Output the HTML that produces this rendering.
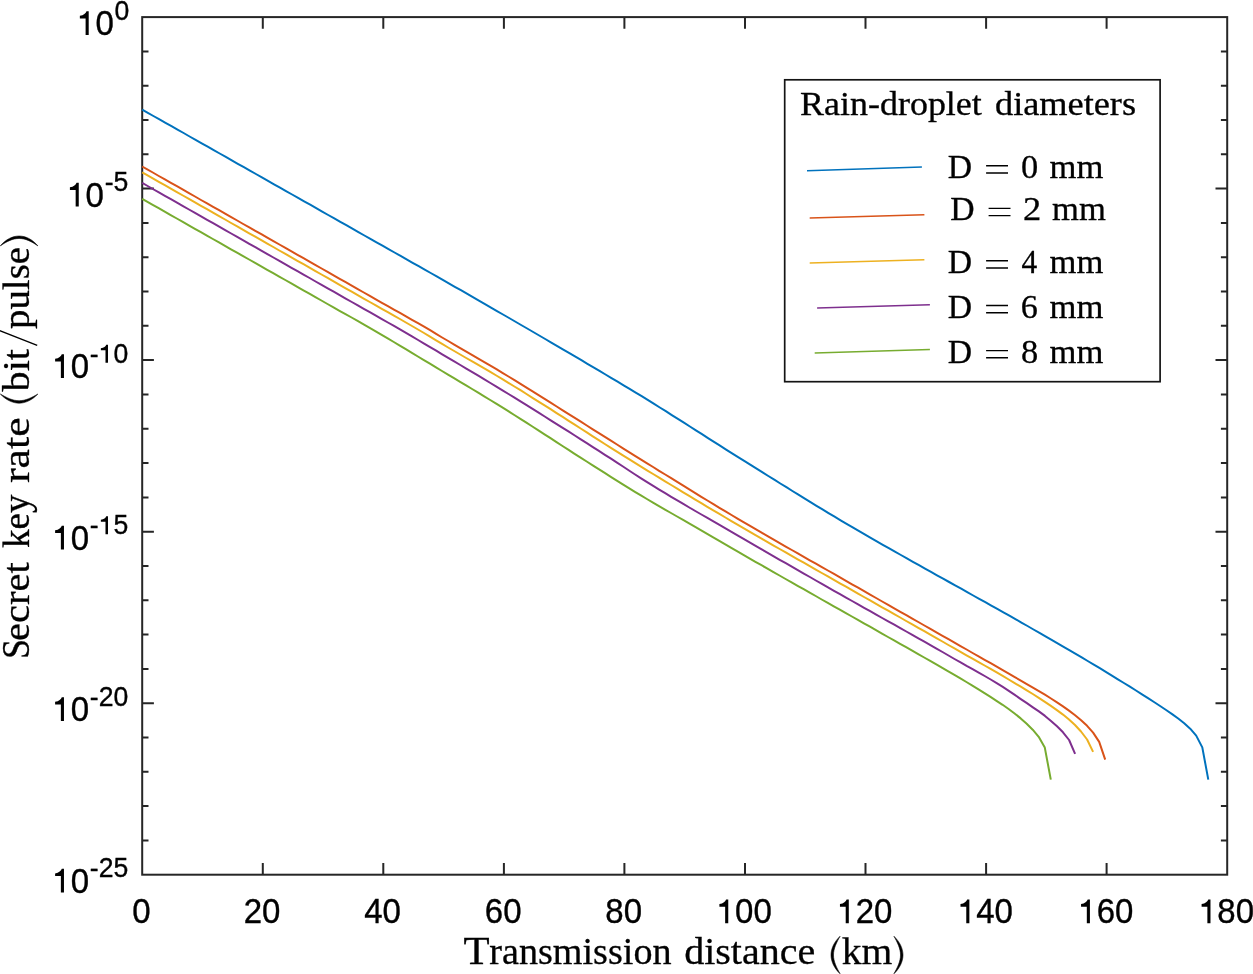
<!DOCTYPE html>
<html><head><meta charset="utf-8"><title>Secret key rate</title>
<style>
html,body{margin:0;padding:0;background:#fff;}
body{width:1253px;height:974px;overflow:hidden;position:relative;}
svg{position:absolute;left:0;top:0;display:block;}
text{font-kerning:none;font-variant-ligatures:none;}
.sans{font-family:"Liberation Sans",sans-serif;fill:#000;stroke:#000;stroke-width:0.35px;}
.serif{font-family:"Liberation Serif",serif;fill:#000;stroke:#000;stroke-width:0.3px;}
</style></head><body>
<svg width="1253" height="974" viewBox="0 0 1253 974">
<rect x="0" y="0" width="1253" height="974" fill="#fff"/>

<g stroke="#262626" stroke-width="2.0" fill="none" stroke-linecap="butt">
<rect x="142.2" y="17.1" width="1085.0" height="857.6"/>
<path d="M262.8,874.7 V863.0 M262.8,17.1 V28.8"/>
<path d="M383.3,874.7 V863.0 M383.3,17.1 V28.8"/>
<path d="M503.9,874.7 V863.0 M503.9,17.1 V28.8"/>
<path d="M624.4,874.7 V863.0 M624.4,17.1 V28.8"/>
<path d="M745.0,874.7 V863.0 M745.0,17.1 V28.8"/>
<path d="M865.5,874.7 V863.0 M865.5,17.1 V28.8"/>
<path d="M986.1,874.7 V863.0 M986.1,17.1 V28.8"/>
<path d="M1106.6,874.7 V863.0 M1106.6,17.1 V28.8"/>
<path d="M142.2,51.4 H148.5 M1227.2,51.4 H1220.9"/>
<path d="M142.2,85.7 H148.5 M1227.2,85.7 H1220.9"/>
<path d="M142.2,120.0 H148.5 M1227.2,120.0 H1220.9"/>
<path d="M142.2,154.3 H148.5 M1227.2,154.3 H1220.9"/>
<path d="M142.2,188.6 H153.9 M1227.2,188.6 H1215.5"/>
<path d="M142.2,222.9 H148.5 M1227.2,222.9 H1220.9"/>
<path d="M142.2,257.2 H148.5 M1227.2,257.2 H1220.9"/>
<path d="M142.2,291.5 H148.5 M1227.2,291.5 H1220.9"/>
<path d="M142.2,325.8 H148.5 M1227.2,325.8 H1220.9"/>
<path d="M142.2,360.1 H153.9 M1227.2,360.1 H1215.5"/>
<path d="M142.2,394.4 H148.5 M1227.2,394.4 H1220.9"/>
<path d="M142.2,428.7 H148.5 M1227.2,428.7 H1220.9"/>
<path d="M142.2,463.1 H148.5 M1227.2,463.1 H1220.9"/>
<path d="M142.2,497.4 H148.5 M1227.2,497.4 H1220.9"/>
<path d="M142.2,531.7 H153.9 M1227.2,531.7 H1215.5"/>
<path d="M142.2,566.0 H148.5 M1227.2,566.0 H1220.9"/>
<path d="M142.2,600.3 H148.5 M1227.2,600.3 H1220.9"/>
<path d="M142.2,634.6 H148.5 M1227.2,634.6 H1220.9"/>
<path d="M142.2,668.9 H148.5 M1227.2,668.9 H1220.9"/>
<path d="M142.2,703.2 H153.9 M1227.2,703.2 H1215.5"/>
<path d="M142.2,737.5 H148.5 M1227.2,737.5 H1220.9"/>
<path d="M142.2,771.8 H148.5 M1227.2,771.8 H1220.9"/>
<path d="M142.2,806.1 H148.5 M1227.2,806.1 H1220.9"/>
<path d="M142.2,840.4 H148.5 M1227.2,840.4 H1220.9"/>
</g>
<g fill="none" stroke-width="2" stroke-linejoin="round" stroke-linecap="butt">
<path d="M142.2,109.6 L147.4,112.6 L153.4,116.0 L159.5,119.4 L165.5,122.8 L171.5,126.2 L177.5,129.6 L183.6,133.0 L189.6,136.5 L195.6,139.9 L201.7,143.3 L207.7,146.7 L213.7,150.1 L219.7,153.5 L225.8,156.9 L231.8,160.4 L237.8,163.8 L243.9,167.2 L249.9,170.6 L255.9,174.0 L261.9,177.4 L268.0,180.8 L274.0,184.3 L280.0,187.7 L286.0,191.1 L292.1,194.5 L298.1,197.9 L304.1,201.3 L310.2,204.7 L316.2,208.2 L322.2,211.6 L328.2,215.0 L334.3,218.4 L340.3,221.8 L346.3,225.2 L352.4,228.7 L358.4,232.1 L364.4,235.5 L370.4,238.9 L376.5,242.3 L382.5,245.7 L388.5,249.1 L394.5,252.5 L400.6,255.9 L406.6,259.3 L412.6,262.8 L418.7,266.2 L424.7,269.6 L430.7,273.0 L436.7,276.4 L442.8,279.9 L448.8,283.3 L454.8,286.8 L460.9,290.2 L466.9,293.7 L472.9,297.2 L478.9,300.6 L485.0,304.1 L491.0,307.6 L497.0,311.1 L503.0,314.5 L509.1,318.0 L515.1,321.5 L521.1,325.0 L527.2,328.5 L533.2,332.0 L539.2,335.5 L545.2,339.0 L551.3,342.6 L557.3,346.1 L563.3,349.6 L569.4,353.2 L575.4,356.7 L581.4,360.2 L587.4,363.8 L593.5,367.3 L599.5,370.9 L605.5,374.5 L611.5,378.1 L617.6,381.7 L623.6,385.3 L629.6,388.9 L635.7,392.6 L641.7,396.2 L647.7,399.9 L653.7,403.7 L659.8,407.5 L665.8,411.2 L671.8,415.1 L677.9,418.9 L683.9,422.7 L689.9,426.5 L695.9,430.4 L702.0,434.2 L708.0,438.1 L714.0,441.9 L720.0,445.7 L726.1,449.6 L732.1,453.4 L738.1,457.1 L744.2,460.9 L750.2,464.7 L756.2,468.4 L762.2,472.2 L768.3,476.0 L774.3,479.7 L780.3,483.5 L786.4,487.2 L792.4,491.0 L798.4,494.7 L804.4,498.4 L810.5,502.1 L816.5,505.8 L822.5,509.4 L828.5,513.1 L834.6,516.7 L840.6,520.3 L846.6,523.8 L852.7,527.4 L858.7,530.9 L864.7,534.4 L870.7,537.9 L876.8,541.3 L882.8,544.8 L888.8,548.2 L894.9,551.6 L900.9,555.0 L906.9,558.4 L912.9,561.8 L919.0,565.2 L925.0,568.6 L931.0,571.9 L937.0,575.3 L943.1,578.7 L949.1,582.0 L955.1,585.4 L961.2,588.7 L967.2,592.1 L973.2,595.5 L979.2,598.8 L985.3,602.2 L991.3,605.6 L997.3,608.9 L1003.4,612.3 L1009.4,615.7 L1015.4,619.1 L1021.4,622.6 L1027.5,626.0 L1033.5,629.5 L1039.5,632.9 L1045.5,636.4 L1051.6,639.9 L1057.6,643.4 L1063.6,646.9 L1069.7,650.4 L1075.7,653.9 L1081.7,657.4 L1087.7,661.0 L1093.8,664.6 L1099.8,668.2 L1105.8,671.9 L1111.9,675.6 L1117.9,679.3 L1123.9,683.0 L1129.9,686.7 L1136.0,690.5 L1142.0,694.3 L1148.0,698.2 L1154.0,702.0 L1160.1,706.0 L1166.1,710.0 L1172.1,714.1 L1178.2,718.5 L1184.2,723.3 L1190.2,728.7 L1196.2,735.6 L1202.3,747.4 L1208.3,779.6" stroke="#0072BD"/>
<path d="M142.2,166.5 L146.8,169.1 L152.8,172.5 L158.8,176.0 L164.9,179.4 L170.9,182.8 L176.9,186.2 L183.0,189.7 L189.0,193.1 L195.0,196.5 L201.0,200.0 L207.1,203.4 L213.1,206.8 L219.1,210.2 L225.1,213.7 L231.2,217.1 L237.2,220.5 L243.2,224.0 L249.3,227.4 L255.3,230.8 L261.3,234.2 L267.3,237.7 L273.4,241.1 L279.4,244.5 L285.4,247.9 L291.5,251.4 L297.5,254.8 L303.5,258.2 L309.5,261.7 L315.6,265.1 L321.6,268.5 L327.6,271.9 L333.6,275.4 L339.7,278.8 L345.7,282.2 L351.7,285.7 L357.8,289.1 L363.8,292.5 L369.8,295.9 L375.8,299.4 L381.9,302.8 L387.9,306.2 L393.9,309.6 L400.0,312.9 L406.0,316.3 L412.0,319.8 L418.0,323.2 L424.1,326.7 L430.1,330.2 L436.1,333.9 L442.1,337.5 L448.2,341.0 L454.2,344.6 L460.2,348.1 L466.3,351.6 L472.3,355.1 L478.3,358.6 L484.3,362.1 L490.4,365.7 L496.4,369.2 L502.4,372.9 L508.5,376.5 L514.5,380.2 L520.5,383.9 L526.5,387.6 L532.6,391.4 L538.6,395.1 L544.6,398.9 L550.6,402.7 L556.7,406.5 L562.7,410.3 L568.7,414.1 L574.8,417.9 L580.8,421.7 L586.8,425.5 L592.8,429.3 L598.9,433.1 L604.9,436.9 L610.9,440.7 L617.0,444.5 L623.0,448.3 L629.0,452.1 L635.0,455.8 L641.1,459.6 L647.1,463.3 L653.1,467.0 L659.1,470.8 L665.2,474.5 L671.2,478.2 L677.2,481.9 L683.3,485.7 L689.3,489.4 L695.3,493.1 L701.3,496.8 L707.4,500.5 L713.4,504.1 L719.4,507.8 L725.5,511.4 L731.5,515.0 L737.5,518.6 L743.5,522.2 L749.6,525.7 L755.6,529.2 L761.6,532.7 L767.6,536.2 L773.7,539.7 L779.7,543.1 L785.7,546.6 L791.8,550.0 L797.8,553.4 L803.8,556.8 L809.8,560.3 L815.9,563.7 L821.9,567.1 L827.9,570.5 L834.0,573.9 L840.0,577.4 L846.0,580.8 L852.0,584.3 L858.1,587.7 L864.1,591.2 L870.1,594.6 L876.1,598.0 L882.2,601.5 L888.2,604.9 L894.2,608.3 L900.3,611.8 L906.3,615.2 L912.3,618.6 L918.3,622.0 L924.4,625.5 L930.4,628.9 L936.4,632.4 L942.5,635.8 L948.5,639.2 L954.5,642.7 L960.5,646.1 L966.6,649.5 L972.6,653.0 L978.6,656.4 L984.6,659.8 L990.7,663.2 L996.7,666.7 L1002.7,670.1 L1008.8,673.6 L1014.8,677.1 L1020.8,680.6 L1026.8,684.1 L1032.9,687.6 L1038.9,691.1 L1044.9,694.7 L1051.0,698.5 L1057.0,702.4 L1063.0,706.4 L1069.0,710.6 L1075.1,715.2 L1081.1,720.2 L1087.1,725.8 L1093.1,732.6 L1099.2,741.9 L1105.2,759.6" stroke="#D95319"/>
<path d="M142.2,172.3 L146.7,174.9 L152.8,178.3 L158.8,181.8 L164.8,185.2 L170.8,188.6 L176.9,192.1 L182.9,195.5 L188.9,198.9 L195.0,202.4 L201.0,205.8 L207.0,209.2 L213.0,212.7 L219.1,216.1 L225.1,219.5 L231.1,223.0 L237.2,226.4 L243.2,229.9 L249.2,233.3 L255.2,236.7 L261.3,240.2 L267.3,243.6 L273.3,247.0 L279.3,250.5 L285.4,253.9 L291.4,257.3 L297.4,260.8 L303.5,264.2 L309.5,267.6 L315.5,271.1 L321.5,274.5 L327.6,277.9 L333.6,281.4 L339.6,284.8 L345.7,288.3 L351.7,291.7 L357.7,295.1 L363.7,298.6 L369.8,302.0 L375.8,305.4 L381.8,308.8 L387.8,312.2 L393.9,315.6 L399.9,319.0 L405.9,322.5 L412.0,326.0 L418.0,329.5 L424.0,333.0 L430.0,336.7 L436.1,340.3 L442.1,343.9 L448.1,347.5 L454.2,351.0 L460.2,354.5 L466.2,358.0 L472.2,361.4 L478.3,364.9 L484.3,368.4 L490.3,371.9 L496.3,375.5 L502.4,379.1 L508.4,382.8 L514.4,386.5 L520.5,390.2 L526.5,394.0 L532.5,397.8 L538.5,401.6 L544.6,405.4 L550.6,409.2 L556.6,413.1 L562.7,416.9 L568.7,420.8 L574.7,424.7 L580.7,428.5 L586.8,432.4 L592.8,436.3 L598.8,440.1 L604.8,444.0 L610.9,447.8 L616.9,451.6 L622.9,455.4 L629.0,459.2 L635.0,462.9 L641.0,466.6 L647.0,470.3 L653.1,474.0 L659.1,477.7 L665.1,481.4 L671.2,485.0 L677.2,488.7 L683.2,492.3 L689.2,495.9 L695.3,499.6 L701.3,503.2 L707.3,506.8 L713.3,510.4 L719.4,513.9 L725.4,517.5 L731.4,521.1 L737.5,524.6 L743.5,528.1 L749.5,531.7 L755.5,535.2 L761.6,538.6 L767.6,542.1 L773.6,545.6 L779.7,549.0 L785.7,552.4 L791.7,555.9 L797.7,559.3 L803.8,562.7 L809.8,566.1 L815.8,569.6 L821.8,573.0 L827.9,576.4 L833.9,579.8 L839.9,583.3 L846.0,586.7 L852.0,590.1 L858.0,593.6 L864.0,597.0 L870.1,600.4 L876.1,603.8 L882.1,607.3 L888.2,610.7 L894.2,614.1 L900.2,617.5 L906.2,621.0 L912.3,624.4 L918.3,627.8 L924.3,631.2 L930.3,634.7 L936.4,638.1 L942.4,641.5 L948.4,645.0 L954.5,648.4 L960.5,651.8 L966.5,655.3 L972.5,658.7 L978.6,662.1 L984.6,665.5 L990.6,668.9 L996.7,672.4 L1002.7,675.9 L1008.7,679.5 L1014.7,683.1 L1020.8,686.7 L1026.8,690.3 L1032.8,694.0 L1038.8,697.8 L1044.9,701.8 L1050.9,705.9 L1056.9,710.1 L1063.0,714.6 L1069.0,719.5 L1075.0,725.0 L1081.0,731.5 L1087.1,739.5 L1093.1,751.9" stroke="#EDB120"/>
<path d="M142.2,182.9 L146.8,185.5 L152.8,189.0 L158.9,192.4 L164.9,195.8 L170.9,199.2 L177.0,202.7 L183.0,206.1 L189.0,209.5 L195.0,212.9 L201.1,216.4 L207.1,219.8 L213.1,223.2 L219.2,226.6 L225.2,230.1 L231.2,233.5 L237.2,236.9 L243.3,240.3 L249.3,243.8 L255.3,247.2 L261.3,250.6 L267.4,254.1 L273.4,257.5 L279.4,260.9 L285.5,264.3 L291.5,267.8 L297.5,271.2 L303.5,274.6 L309.6,278.0 L315.6,281.5 L321.6,284.9 L327.7,288.3 L333.7,291.7 L339.7,295.2 L345.7,298.6 L351.8,302.0 L357.8,305.4 L363.8,308.8 L369.8,312.2 L375.9,315.6 L381.9,319.1 L387.9,322.5 L394.0,325.9 L400.0,329.4 L406.0,332.9 L412.0,336.4 L418.1,340.0 L424.1,343.6 L430.1,347.1 L436.2,350.7 L442.2,354.3 L448.2,357.9 L454.2,361.4 L460.3,365.0 L466.3,368.6 L472.3,372.1 L478.3,375.7 L484.4,379.3 L490.4,383.0 L496.4,386.6 L502.5,390.3 L508.5,394.0 L514.5,397.7 L520.5,401.4 L526.6,405.2 L532.6,408.9 L538.6,412.7 L544.7,416.5 L550.7,420.3 L556.7,424.1 L562.7,427.9 L568.8,431.7 L574.8,435.5 L580.8,439.4 L586.8,443.2 L592.9,447.1 L598.9,450.9 L604.9,454.8 L611.0,458.7 L617.0,462.6 L623.0,466.5 L629.0,470.5 L635.1,474.5 L641.1,478.4 L647.1,482.2 L653.2,485.9 L659.2,489.6 L665.2,493.2 L671.2,496.8 L677.3,500.4 L683.3,503.9 L689.3,507.5 L695.3,511.0 L701.4,514.5 L707.4,517.9 L713.4,521.4 L719.5,524.9 L725.5,528.4 L731.5,531.9 L737.5,535.4 L743.6,538.9 L749.6,542.4 L755.6,545.9 L761.7,549.4 L767.7,552.8 L773.7,556.3 L779.7,559.8 L785.8,563.2 L791.8,566.7 L797.8,570.1 L803.8,573.6 L809.9,577.0 L815.9,580.5 L821.9,583.9 L828.0,587.3 L834.0,590.8 L840.0,594.2 L846.0,597.6 L852.1,601.0 L858.1,604.4 L864.1,607.8 L870.2,611.2 L876.2,614.6 L882.2,618.0 L888.2,621.4 L894.3,624.7 L900.3,628.1 L906.3,631.5 L912.3,634.9 L918.4,638.3 L924.4,641.7 L930.4,645.1 L936.5,648.6 L942.5,652.0 L948.5,655.5 L954.5,659.0 L960.6,662.4 L966.6,665.9 L972.6,669.2 L978.7,672.6 L984.7,676.0 L990.7,679.5 L996.7,683.1 L1002.8,686.9 L1008.8,690.8 L1014.8,694.9 L1020.8,699.1 L1026.9,703.2 L1032.9,707.3 L1038.9,711.4 L1045.0,715.9 L1051.0,720.9 L1057.0,726.3 L1063.0,732.3 L1069.1,740.0 L1075.1,753.9" stroke="#7E2F8E"/>
<path d="M142.2,198.9 L146.6,201.4 L152.7,204.8 L158.7,208.2 L164.7,211.7 L170.7,215.1 L176.8,218.5 L182.8,221.9 L188.8,225.3 L194.9,228.8 L200.9,232.2 L206.9,235.6 L212.9,239.0 L219.0,242.4 L225.0,245.8 L231.0,249.3 L237.0,252.7 L243.1,256.1 L249.1,259.5 L255.1,262.9 L261.2,266.4 L267.2,269.8 L273.2,273.2 L279.2,276.6 L285.3,280.0 L291.3,283.4 L297.3,286.9 L303.4,290.3 L309.4,293.7 L315.4,297.1 L321.4,300.5 L327.5,304.0 L333.5,307.4 L339.5,310.8 L345.5,314.1 L351.6,317.5 L357.6,320.9 L363.6,324.4 L369.7,327.8 L375.7,331.3 L381.7,334.9 L387.7,338.4 L393.8,342.0 L399.8,345.6 L405.8,349.2 L411.9,352.8 L417.9,356.5 L423.9,360.1 L429.9,363.7 L436.0,367.4 L442.0,371.0 L448.0,374.6 L454.0,378.2 L460.1,381.8 L466.1,385.4 L472.1,389.0 L478.2,392.7 L484.2,396.3 L490.2,400.0 L496.2,403.7 L502.3,407.4 L508.3,411.2 L514.3,415.0 L520.4,418.8 L526.4,422.7 L532.4,426.5 L538.4,430.4 L544.5,434.3 L550.5,438.2 L556.5,442.1 L562.5,446.0 L568.6,449.9 L574.6,453.8 L580.6,457.6 L586.7,461.5 L592.7,465.3 L598.7,469.1 L604.7,472.9 L610.8,476.8 L616.8,480.6 L622.8,484.4 L628.9,488.1 L634.9,491.8 L640.9,495.4 L646.9,499.0 L653.0,502.6 L659.0,506.1 L665.0,509.6 L671.0,513.0 L677.1,516.5 L683.1,519.9 L689.1,523.3 L695.2,526.8 L701.2,530.3 L707.2,533.8 L713.2,537.3 L719.3,540.8 L725.3,544.4 L731.3,547.9 L737.4,551.4 L743.4,554.8 L749.4,558.3 L755.4,561.8 L761.5,565.2 L767.5,568.7 L773.5,572.1 L779.5,575.5 L785.6,579.0 L791.6,582.4 L797.6,585.8 L803.7,589.2 L809.7,592.6 L815.7,596.0 L821.7,599.5 L827.8,602.9 L833.8,606.3 L839.8,609.7 L845.9,613.1 L851.9,616.5 L857.9,619.9 L863.9,623.3 L870.0,626.7 L876.0,630.1 L882.0,633.6 L888.0,637.0 L894.1,640.4 L900.1,643.8 L906.1,647.2 L912.2,650.7 L918.2,654.1 L924.2,657.5 L930.2,660.9 L936.3,664.4 L942.3,667.8 L948.3,671.3 L954.4,674.8 L960.4,678.4 L966.4,682.0 L972.4,685.7 L978.5,689.4 L984.5,693.1 L990.5,696.9 L996.5,700.8 L1002.6,704.8 L1008.6,709.0 L1014.6,713.5 L1020.7,718.4 L1026.7,723.8 L1032.7,729.7 L1038.7,736.8 L1044.8,747.6 L1050.8,779.6" stroke="#77AC30"/>
</g>
<rect x="784.7" y="79.8" width="375.4" height="301.9" fill="#fff" stroke="#141414" stroke-width="1.7"/>
<line x1="807.0" y1="170.8" x2="921.9" y2="166.9" stroke="#0072BD" stroke-width="1.5"/>
<path d="M986.1,165.8 H1008.0 M986.1,173.0 H1008.0" stroke="#000" stroke-width="1.4" fill="none"/>
<line x1="809.7" y1="218.0" x2="924.4" y2="214.8" stroke="#D95319" stroke-width="1.5"/>
<path d="M988.6,208.4 H1010.5 M988.6,215.6 H1010.5" stroke="#000" stroke-width="1.4" fill="none"/>
<line x1="809.7" y1="262.9" x2="924.4" y2="259.8" stroke="#EDB120" stroke-width="1.5"/>
<path d="M986.1,260.8 H1008.0 M986.1,268.0 H1008.0" stroke="#000" stroke-width="1.4" fill="none"/>
<line x1="817.1" y1="308.1" x2="929.9" y2="304.7" stroke="#7E2F8E" stroke-width="1.5"/>
<path d="M986.1,305.5 H1008.0 M986.1,312.7 H1008.0" stroke="#000" stroke-width="1.4" fill="none"/>
<line x1="814.7" y1="353.1" x2="929.9" y2="349.5" stroke="#77AC30" stroke-width="1.5"/>
<path d="M986.1,350.6 H1008.0 M986.1,357.8 H1008.0" stroke="#000" stroke-width="1.4" fill="none"/>
<g style="opacity:0.999">
<text class="sans" transform="translate(0,923.30) scale(1,1.075)" x="132.33" y="0" font-size="33">0</text>
<text class="sans" transform="translate(0,923.30) scale(1,1.075)" x="243.71 262.06" y="0" font-size="33">20</text>
<text class="sans" transform="translate(0,923.30) scale(1,1.075)" x="364.26 382.61" y="0" font-size="33">40</text>
<text class="sans" transform="translate(0,923.30) scale(1,1.075)" x="484.82 503.17" y="0" font-size="33">60</text>
<text class="sans" transform="translate(0,923.30) scale(1,1.075)" x="605.37 623.72" y="0" font-size="33">80</text>
<path d="M0.2545,0 L0.3485,0 L0.3485,-0.721 L0.282,-0.721 C0.262,-0.655 0.197,-0.603 0.080,-0.582 L0.080,-0.503 L0.2545,-0.503 Z" transform="translate(716.76,923.30) scale(33,33.000)" fill="#000"/>
<text class="sans" transform="translate(0,923.30) scale(1,1.075)" x="735.10 753.45" y="0" font-size="33">00</text>
<path d="M0.2545,0 L0.3485,0 L0.3485,-0.721 L0.282,-0.721 C0.262,-0.655 0.197,-0.603 0.080,-0.582 L0.080,-0.503 L0.2545,-0.503 Z" transform="translate(837.31,923.30) scale(33,33.000)" fill="#000"/>
<text class="sans" transform="translate(0,923.30) scale(1,1.075)" x="855.66 874.01" y="0" font-size="33">20</text>
<path d="M0.2545,0 L0.3485,0 L0.3485,-0.721 L0.282,-0.721 C0.262,-0.655 0.197,-0.603 0.080,-0.582 L0.080,-0.503 L0.2545,-0.503 Z" transform="translate(957.87,923.30) scale(33,33.000)" fill="#000"/>
<text class="sans" transform="translate(0,923.30) scale(1,1.075)" x="976.21 994.56" y="0" font-size="33">40</text>
<path d="M0.2545,0 L0.3485,0 L0.3485,-0.721 L0.282,-0.721 C0.262,-0.655 0.197,-0.603 0.080,-0.582 L0.080,-0.503 L0.2545,-0.503 Z" transform="translate(1078.42,923.30) scale(33,33.000)" fill="#000"/>
<text class="sans" transform="translate(0,923.30) scale(1,1.075)" x="1096.77 1115.12" y="0" font-size="33">60</text>
<path d="M0.2545,0 L0.3485,0 L0.3485,-0.721 L0.282,-0.721 C0.262,-0.655 0.197,-0.603 0.080,-0.582 L0.080,-0.503 L0.2545,-0.503 Z" transform="translate(1198.98,923.30) scale(33,33.000)" fill="#000"/>
<text class="sans" transform="translate(0,923.30) scale(1,1.075)" x="1217.33 1235.67" y="0" font-size="33">80</text>
<path d="M0.2545,0 L0.3485,0 L0.3485,-0.721 L0.282,-0.721 C0.262,-0.655 0.197,-0.603 0.080,-0.582 L0.080,-0.503 L0.2545,-0.503 Z" transform="translate(77.21,35.00) scale(33,33.000)" fill="#000"/>
<text class="sans" transform="translate(0,35.00) scale(1,1.075)" x="95.56" y="0" font-size="33">0</text>
<text class="sans" transform="translate(0,19.80) scale(1,1.02)" x="114.61" y="0" font-size="26.6">0</text>
<path d="M0.2545,0 L0.3485,0 L0.3485,-0.721 L0.282,-0.721 C0.262,-0.655 0.197,-0.603 0.080,-0.582 L0.080,-0.503 L0.2545,-0.503 Z" transform="translate(67.26,206.52) scale(33,33.000)" fill="#000"/>
<text class="sans" transform="translate(0,206.52) scale(1,1.075)" x="85.60" y="0" font-size="33">0</text>
<text class="sans" transform="translate(0,191.32) scale(1,1.02)" x="104.65 113.51" y="0" font-size="26.6">-5</text>
<path d="M0.2545,0 L0.3485,0 L0.3485,-0.721 L0.282,-0.721 C0.262,-0.655 0.197,-0.603 0.080,-0.582 L0.080,-0.503 L0.2545,-0.503 Z" transform="translate(52.47,378.04) scale(33,33.000)" fill="#000"/>
<text class="sans" transform="translate(0,378.04) scale(1,1.075)" x="70.81" y="0" font-size="33">0</text>
<path d="M0.2545,0 L0.3485,0 L0.3485,-0.721 L0.282,-0.721 C0.262,-0.655 0.197,-0.603 0.080,-0.582 L0.080,-0.503 L0.2545,-0.503 Z" transform="translate(98.72,362.84) scale(26.6,25.239)" fill="#000"/>
<text class="sans" transform="translate(0,362.84) scale(1,1.02)" x="89.86 113.51" y="0" font-size="26.6">-0</text>
<path d="M0.2545,0 L0.3485,0 L0.3485,-0.721 L0.282,-0.721 C0.262,-0.655 0.197,-0.603 0.080,-0.582 L0.080,-0.503 L0.2545,-0.503 Z" transform="translate(52.47,549.56) scale(33,33.000)" fill="#000"/>
<text class="sans" transform="translate(0,549.56) scale(1,1.075)" x="70.81" y="0" font-size="33">0</text>
<path d="M0.2545,0 L0.3485,0 L0.3485,-0.721 L0.282,-0.721 C0.262,-0.655 0.197,-0.603 0.080,-0.582 L0.080,-0.503 L0.2545,-0.503 Z" transform="translate(98.72,534.36) scale(26.6,25.239)" fill="#000"/>
<text class="sans" transform="translate(0,534.36) scale(1,1.02)" x="89.86 113.51" y="0" font-size="26.6">-5</text>
<path d="M0.2545,0 L0.3485,0 L0.3485,-0.721 L0.282,-0.721 C0.262,-0.655 0.197,-0.603 0.080,-0.582 L0.080,-0.503 L0.2545,-0.503 Z" transform="translate(52.47,721.08) scale(33,33.000)" fill="#000"/>
<text class="sans" transform="translate(0,721.08) scale(1,1.075)" x="70.81" y="0" font-size="33">0</text>
<text class="sans" transform="translate(0,705.88) scale(1,1.02)" x="89.86 98.72 113.51" y="0" font-size="26.6">-20</text>
<path d="M0.2545,0 L0.3485,0 L0.3485,-0.721 L0.282,-0.721 C0.262,-0.655 0.197,-0.603 0.080,-0.582 L0.080,-0.503 L0.2545,-0.503 Z" transform="translate(52.47,892.60) scale(33,33.000)" fill="#000"/>
<text class="sans" transform="translate(0,892.60) scale(1,1.075)" x="70.81" y="0" font-size="33">0</text>
<text class="sans" transform="translate(0,877.40) scale(1,1.02)" x="89.86 98.72 113.51" y="0" font-size="26.6">-25</text>
<text class="serif" transform="translate(463.43,964.40) scale(1.1385,1.05)" font-size="37.5">T</text>
<text class="serif" transform="translate(489.34,964.40) scale(1.0171,1.0)" font-size="37.5">ransmission</text>
<text class="serif" transform="translate(684.15,964.40) scale(1.0681,1.0)" font-size="37.5">distance</text>
<path d="M0.24202127659574466,-0.75 C0.085,-0.60 0,-0.42 0,-0.25 C0,-0.08 0.085,0.10 0.24202127659574466,0.25 C0.151,0.09 0.066,-0.08 0.066,-0.25 C0.066,-0.42 0.151,-0.59 0.24202127659574466,-0.75 Z" transform="translate(831.00,964.40) scale(37.6)" fill="#000" stroke="#000" stroke-width="0.0146" stroke-linejoin="round"/>
<text class="serif" transform="translate(841.65,964.40) scale(1.0554,1.0)" font-size="37.5">km</text>
<path d="M0.24202127659574466,-0.75 C0.085,-0.60 0,-0.42 0,-0.25 C0,-0.08 0.085,0.10 0.24202127659574466,0.25 C0.151,0.09 0.066,-0.08 0.066,-0.25 C0.066,-0.42 0.151,-0.59 0.24202127659574466,-0.75 Z" transform="translate(903.00,964.40) scale(-37.6,37.6)" fill="#000" stroke="#000" stroke-width="0.0146" stroke-linejoin="round"/>
<text class="serif" transform="translate(28.50,659.11) rotate(-90) scale(0.9689,1.075)" font-size="37.2">S</text>
<text class="serif" transform="translate(28.50,640.99) rotate(-90) scale(1.0909,1.0)" font-size="37.2">ecret</text>
<text class="serif" transform="translate(28.50,547.90) rotate(-90) scale(0.9951,1.0)" font-size="37.2">key</text>
<text class="serif" transform="translate(28.50,483.08) rotate(-90) scale(1.1785,1.0)" font-size="37.2">rate</text>
<path d="M0.24468085106382975,-0.75 C0.085,-0.60 0,-0.42 0,-0.25 C0,-0.08 0.085,0.10 0.24468085106382975,0.25 C0.151,0.09 0.066,-0.08 0.066,-0.25 C0.066,-0.42 0.151,-0.59 0.24468085106382975,-0.75 Z" transform="translate(28.50,403.20) rotate(-90) scale(37.6)" fill="#000" stroke="#000" stroke-width="0.0146" stroke-linejoin="round"/>
<text class="serif" transform="translate(28.50,391.40) rotate(-90) scale(1.0780,1.0)" font-size="37.2">bit</text>
<line x1="37.2" y1="345.3" x2="-0.5" y2="330.6" stroke="#000" stroke-width="1.4"/>
<text class="serif" transform="translate(28.50,329.03) rotate(-90) scale(1.0452,1.0)" font-size="37.2">pulse</text>
<path d="M0.2632978723404255,-0.75 C0.085,-0.60 0,-0.42 0,-0.25 C0,-0.08 0.085,0.10 0.2632978723404255,0.25 C0.151,0.09 0.066,-0.08 0.066,-0.25 C0.066,-0.42 0.151,-0.59 0.2632978723404255,-0.75 Z" transform="translate(28.50,236.00) rotate(-90) scale(-37.6,37.6)" fill="#000" stroke="#000" stroke-width="0.0146" stroke-linejoin="round"/>
<text class="serif" transform="translate(800.06,115.40) scale(1.0969,1.0)" font-size="32.8">Rain-droplet</text>
<text class="serif" transform="translate(994.99,115.40) scale(1.1068,1.0)" font-size="32.8">diameters</text>
<text class="serif" transform="translate(947.73,177.80) scale(1.0267,1.0)" font-size="32.8">D</text>
<text class="serif" transform="translate(1020.89,177.80) scale(1.0502,1.0)" font-size="32.8">0</text>
<text class="serif" transform="translate(1049.57,177.80) scale(1.0557,1.0)" font-size="32.8">mm</text>
<text class="serif" transform="translate(950.23,220.40) scale(1.0267,1.0)" font-size="32.8">D</text>
<text class="serif" transform="translate(1023.10,220.40) scale(1.1104,1.0)" font-size="32.8">2</text>
<text class="serif" transform="translate(1052.07,220.40) scale(1.0557,1.0)" font-size="32.8">mm</text>
<text class="serif" transform="translate(947.73,272.80) scale(1.0267,1.0)" font-size="32.8">D</text>
<text class="serif" transform="translate(1021.59,272.80) scale(0.9576,1.0)" font-size="32.8">4</text>
<text class="serif" transform="translate(1049.57,272.80) scale(1.0557,1.0)" font-size="32.8">mm</text>
<text class="serif" transform="translate(947.73,317.50) scale(1.0267,1.0)" font-size="32.8">D</text>
<text class="serif" transform="translate(1020.73,317.50) scale(1.0418,1.0)" font-size="32.8">6</text>
<text class="serif" transform="translate(1049.57,317.50) scale(1.0557,1.0)" font-size="32.8">mm</text>
<text class="serif" transform="translate(947.73,362.60) scale(1.0267,1.0)" font-size="32.8">D</text>
<text class="serif" transform="translate(1020.89,362.60) scale(1.0502,1.0)" font-size="32.8">8</text>
<text class="serif" transform="translate(1049.57,362.60) scale(1.0557,1.0)" font-size="32.8">mm</text>
</g>
</svg></body></html>
